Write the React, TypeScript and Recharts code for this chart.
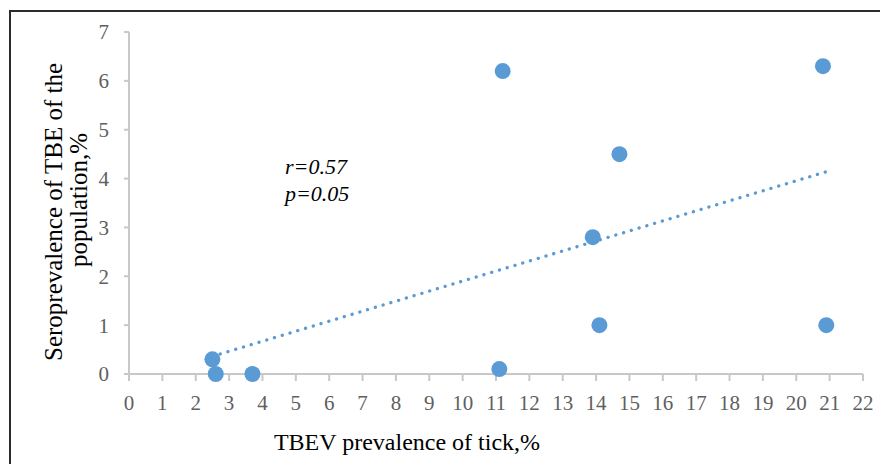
import React from "react";
import { ScatterChart, Scatter, XAxis, YAxis, Label } from "recharts";

// TBEV prevalence in ticks (%) vs seroprevalence in population (%)
const tickPrevalence = [2.5, 2.6, 3.7, 11.1, 11.2, 13.9, 14.1, 14.7, 20.8, 20.9];
const seroPrevalence = [0.3, 0, 0, 0.1, 6.2, 2.8, 1.0, 4.5, 6.3, 1.0];

const xTicks = [0, 1, 2, 3, 4, 5, 6, 7, 8, 9, 10, 11, 12, 13, 14, 15, 16, 17, 18, 19, 20, 21, 22];
const yTicks = [0, 1, 2, 3, 4, 5, 6, 7];

const xTitle = "TBEV prevalence of tick,%";
const yTitleLines = ["Seroprevalence of TBE of the", "population,%"];
const statLines = ["r=0.57", "p=0.05"];

const BLUE = "#5B9BD5";
const AXIS = "#C8C8C8";
const FONT = "'Liberation Serif', 'Times New Roman', serif";

const data = tickPrevalence.map((x, i) => ({ x, y: seroPrevalence[i] }));

const Dot = (props: any) => <circle cx={props.cx} cy={props.cy} r={8} fill={BLUE} />;

// baseline x and vertical centre of each line of the rotated y title
const yTitlePos = [
  { x: 62, y: 212 },
  { x: 87, y: 200 },
];

export default function App() {
  return (
    <div
      style={{
        position: "absolute",
        left: 0,
        top: 0,
        width: 880,
        height: 464,
        overflow: "hidden",
        background: "#fff",
        fontFamily: FONT,
      }}
    >
      <div
        style={{
          position: "absolute",
          left: 9,
          top: 10,
          width: 1000,
          height: 1000,
          border: "2px solid #2b2b2b",
        }}
      />
      <ScatterChart width={880} height={464} margin={{ top: 32, right: 17, bottom: 60, left: 0 }}>
        <XAxis
          type="number"
          dataKey="x"
          domain={[0, 22]}
          ticks={xTicks}
          interval={0}
          allowDecimals={false}
          axisLine={{ stroke: AXIS, strokeWidth: 2 }}
          tickLine={{ stroke: AXIS, strokeWidth: 2 }}
          tickSize={7}
          tickMargin={14}
          height={30}
          tick={{ fill: "#5f5f5f", fontSize: 21, fontFamily: FONT }}
        >
          <Label
            content={() => (
              <text x={407} y={450} textAnchor="middle" fill="#000" fontSize={24} fontFamily={FONT}>
                {xTitle}
              </text>
            )}
          />
        </XAxis>
        <YAxis
          type="number"
          dataKey="y"
          domain={[0, 7]}
          ticks={yTicks}
          interval={0}
          width={129}
          axisLine={{ stroke: AXIS, strokeWidth: 2 }}
          tickLine={{ stroke: AXIS, strokeWidth: 2 }}
          tickSize={5}
          tickMargin={15}
          tick={{ fill: "#5f5f5f", fontSize: 21, fontFamily: FONT }}
        >
          <Label
            content={() => (
              <g>
                {yTitleLines.map((t, i) => (
                  <text
                    key={t}
                    x={0}
                    y={0}
                    transform={`translate(${yTitlePos[i].x}, ${yTitlePos[i].y}) rotate(-90)`}
                    textAnchor="middle"
                    fill="#000"
                    fontSize={25}
                    fontFamily={FONT}
                  >
                    {t}
                  </text>
                ))}
              </g>
            )}
          />
        </YAxis>
        <Scatter
          data={data}
          isAnimationActive={false}
          shape={Dot}
          line={{ stroke: BLUE, strokeWidth: 3.3, strokeDasharray: "0.1 8", strokeLinecap: "round" }}
          lineType="fitting"
        />
      </ScatterChart>
      <div
        style={{
          position: "absolute",
          left: 285,
          top: 153,
          fontStyle: "italic",
          fontSize: 22,
          lineHeight: "27px",
          color: "#000",
        }}
      >
        {statLines.map((s) => (
          <div key={s}>{s}</div>
        ))}
      </div>
    </div>
  );
}
